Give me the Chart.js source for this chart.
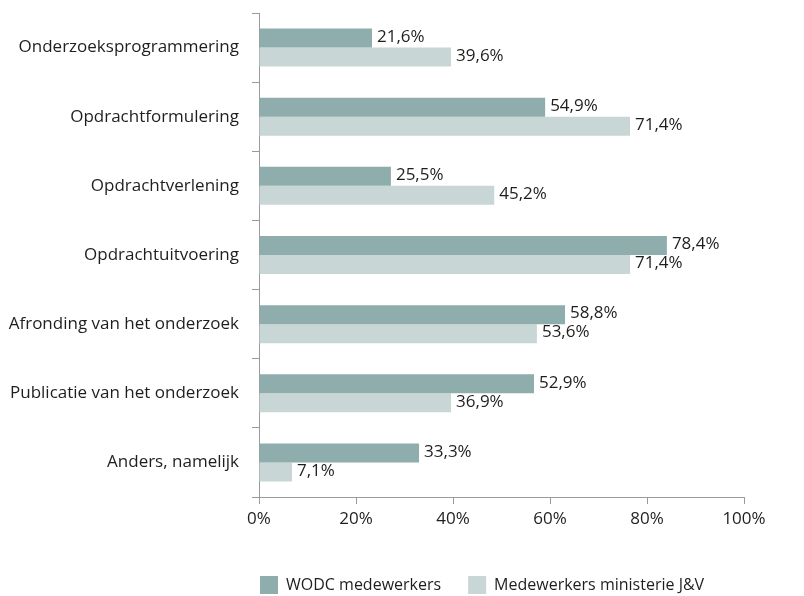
<!DOCTYPE html>
<html>
<head>
<meta charset="utf-8">
<script src="https://cdn.jsdelivr.net/npm/chart.js@4.4.1/dist/chart.umd.min.js"></script>
<style>
    html, body { margin: 0; padding: 0; background: #fff; }
    #wrap { width: 804px; height: 596px; }
</style>
</head>
<body>
<div id="wrap"><canvas id="chart"></canvas></div>
<script>
// categorieen (van boven naar beneden)
const categories = ['Onderzoeksprogrammering', 'Opdrachtformulering', 'Opdrachtverlening', 'Opdrachtuitvoering',
    'Afronding van het onderzoek', 'Publicatie van het onderzoek', 'Anders, namelijk'];

// balklengtes zoals
const wodcValues = [23.3, 59.0, 27.2, 84.1, 63.1, 56.7, 33.0];
const ministerieValues = [39.6, 76.5, 48.5, 76.5, 57.3, 39.6, 6.8];

// labels zoals afgedrukt naast de balken
const wodcLabels = ['21,6%', '54,9%', '25,5%', '78,4%', '58,8%', '52,9%', '33,3%'];
const ministerieLabels = ['39,6%', '71,4%', '45,2%', '71,4%', '53,6%', '36,9%', '7,1%'];

const xMin = 0;
const xMax = 100;
const xStep = 20;

const FONT = '"Open Sans", sans-serif';
const TEXT = '#1e1e1e';
const AXIS = '#9a9a9a';

// tekst rechts van elke balk
const valueLabels = {
    id: 'valueLabels',
    afterDatasetsDraw(chart) {
        const ctx = chart.ctx;
        ctx.save();
        ctx.font = '17px ' + FONT;
        ctx.fillStyle = TEXT;
        ctx.textAlign = 'left';
        ctx.textBaseline = 'middle';
        chart.data.datasets.forEach((ds, i) => {
            chart.getDatasetMeta(i).data.forEach((bar, j) => {
                ctx.fillText(ds.valueText[j], bar.x + 5, bar.y - 1);
            });
        });
        ctx.restore();
    }
};

// legenda laten beginnen net links van de y-as
const legendShift = {
    id: 'legendShift',
    afterLayout(chart) {
        chart.legend.left = chart.chartArea.left - 26;
    }
};

new Chart(document.getElementById('chart'), {
    type: 'bar',
    data: {
        labels: categories,
        datasets: [{
            label: 'WODC medewerkers',
            data: wodcValues,
            valueText: wodcLabels,
            backgroundColor: '#8fadac',
            borderWidth: 0
        }, {
            label: 'Medewerkers ministerie J&V',
            data: ministerieValues,
            valueText: ministerieLabels,
            backgroundColor: '#c9d6d6',
            borderWidth: 0
        }]
    },
    options: {
        indexAxis: 'y',
        responsive: true,
        maintainAspectRatio: false,
        animation: false,
        datasets: {
            bar: { barPercentage: 1, categoryPercentage: 0.55 }
        },
        layout: { padding: { top: 13, right: 60, left: 0, bottom: -8 } },
        plugins: {
            tooltip: { enabled: false },
            legend: {
                position: 'bottom',
                align: 'start',
                labels: {
                    boxWidth: 18,
                    boxHeight: 18,
                    padding: 27,
                    color: TEXT,
                    font: { family: FONT, size: 16 }
                }
            }
        },
        scales: {
            y: {
                afterFit(scale) {
                    scale.width = 259;
                    scale.paddingTop = 0;
                    scale.paddingBottom = 0;
                },
                grid: { offset: true, drawOnChartArea: false, tickLength: 7, color: AXIS },
                border: { color: AXIS, width: 1 },
                ticks: { color: TEXT, padding: 13, font: { family: FONT, size: 17 } }
            },
            x: {
                min: xMin,
                max: xMax,
                afterFit(scale) { scale.height = 52; },
                grid: { drawOnChartArea: false, tickLength: 7, color: AXIS },
                border: { color: AXIS, width: 1 },
                ticks: {
                    stepSize: xStep,
                    color: TEXT,
                    padding: 5,
                    font: { family: FONT, size: 17 },
                    callback: v => v + '%'
                }
            }
        }
    },
    plugins: [valueLabels, legendShift]
});
</script>
</body>
</html>
